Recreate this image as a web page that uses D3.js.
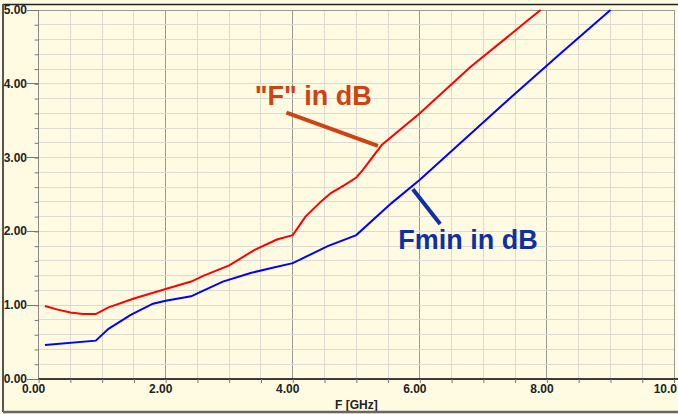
<!DOCTYPE html>
<html><head><meta charset="utf-8">
<script src="https://cdn.jsdelivr.net/npm/d3@7"></script>
<style>
html,body{margin:0;padding:0;background:#fffbe3;}
svg{display:block;font-family:"Liberation Sans",Arial,sans-serif;}
</style></head>
<body><svg id="c" width="678" height="414"></svg>
<script>
// ---- data ----
const fFreq = [0.1,0.3,0.5,0.7,0.9,1.1,1.5,2.0,2.4,2.6,3.0,3.4,3.75,4.0,4.2,4.45,4.6,4.8,5.0,5.1,5.4,6.0,6.8,7.7,7.9];
const fDb   = [0.99,0.94,0.90,0.88,0.88,0.97,1.09,1.22,1.32,1.40,1.54,1.75,1.89,1.95,2.20,2.41,2.52,2.62,2.73,2.83,3.17,3.60,4.23,4.86,5.0];
const fminFreq = [0.1,0.9,1.1,1.45,1.8,2.0,2.4,2.55,2.9,3.35,3.65,4.0,4.55,5.0,5.55,6.0,7.4,8.2,9.0];
const fminDb   = [0.46,0.52,0.68,0.87,1.02,1.06,1.12,1.18,1.32,1.44,1.50,1.57,1.80,1.95,2.38,2.70,3.79,4.40,5.0];
const xTickLabels = ["0.00","2.00","4.00","6.00","8.00","10.0"];
const yTickLabels = ["0.00","1.00","2.00","3.00","4.00","5.00"];
const xTitle = "F [GHz]";
const annotations = [
  {text:'"F" in dB', tx:3.40, ty:3.71, x1:3.90, y1:3.61, x2:5.34, y2:3.16, color:"#cc4411"},
  {text:"Fmin in dB", tx:5.66, ty:1.76, x1:5.89, y1:2.57, x2:6.32, y2:2.10, color:"#1030a0"}
];

// ---- chart ----
const svg = d3.select("#c");
const x = d3.scaleLinear().domain([0,10]).range([38.6,674]);
const y = d3.scaleLinear().domain([0,5]).range([379,10]);

svg.append("rect").attr("width",678).attr("height",414).attr("fill","#fffbe3");

// grid
const g = svg.append("g");
g.selectAll(".vx").data(d3.range(0,10.01,0.5)).join("line")
  .attr("x1",d=>x(d)).attr("x2",d=>x(d)).attr("y1",y(5)).attr("y2",y(0))
  .attr("stroke",d=>(Math.abs(d%2)<1e-6 && d>0 && d<10)?"#9a9a94":"#dcdad0")
  .attr("stroke-width",1).attr("shape-rendering","crispEdges");
g.selectAll(".hy").data(d3.range(0,5.01,0.2)).join("line")
  .attr("x1",x(0)).attr("x2",x(10)).attr("y1",d=>y(d)).attr("y2",d=>y(d))
  .attr("stroke","#dcdad0").attr("stroke-width",1).attr("shape-rendering","crispEdges");

// plot borders
svg.append("line").attr("x1",x(0)).attr("x2",x(10)).attr("y1",y(5)).attr("y2",y(5)).attr("stroke","#9a9a94").attr("shape-rendering","crispEdges");
svg.append("line").attr("x1",x(10)).attr("x2",x(10)).attr("y1",y(5)).attr("y2",y(0)).attr("stroke","#9a9a94").attr("shape-rendering","crispEdges");
svg.append("line").attr("x1",x(0)).attr("x2",x(0)).attr("y1",y(5)).attr("y2",y(0)).attr("stroke","#8a8a86").attr("shape-rendering","crispEdges");

// x axis
const xAxis = d3.axisBottom(x).tickValues(d3.range(0,10.01,0.5)).tickSize(4).tickFormat("");
const xa = svg.append("g").attr("transform",`translate(0,${y(0)})`).call(xAxis);
xa.select(".domain").attr("stroke","#000").attr("stroke-width",1.5).attr("d",`M${x(0)},0H678`);
xa.selectAll(".tick line").attr("stroke","#777");
svg.append("g").selectAll("text").data(xTickLabels).join("text")
  .attr("x",(d,i)=>i===xTickLabels.length-1?677:x(i*2)-5).attr("y",393)
  .attr("text-anchor",(d,i)=>i===xTickLabels.length-1?"end":"middle")
  .attr("font-size",12).attr("font-weight","bold").attr("fill","#222").text(d=>d);
svg.append("text").attr("x",(x(0)+x(10))/2).attr("y",409).attr("text-anchor","middle")
  .attr("font-size",12).attr("font-weight","bold").attr("fill","#222").text(xTitle);

// y axis
const yAxis = d3.axisLeft(y).tickValues(d3.range(0,5.01,0.2)).tickSize(4).tickFormat("");
const ya = svg.append("g").attr("transform",`translate(${x(0)},0)`).call(yAxis);
ya.select(".domain").remove();
ya.selectAll(".tick line").attr("stroke","#777");
svg.append("g").selectAll("line").data(yTickLabels).join("line")
  .attr("x1",27).attr("x2",x(0)).attr("y1",(d,i)=>y(i)).attr("y2",(d,i)=>y(i))
  .attr("stroke","#777").attr("shape-rendering","crispEdges");
svg.append("g").selectAll("text").data(yTickLabels).join("text")
  .attr("x",27).attr("y",(d,i)=>y(i)+4).attr("text-anchor","end")
  .attr("font-size",12).attr("font-weight","bold").attr("fill","#222").text(d=>d);

// curves
const line = d3.line().x(d=>x(d[0])).y(d=>y(d[1]));
svg.append("path").datum(fFreq.map((f,i)=>[f,fDb[i]])).attr("d",line)
  .attr("fill","none").attr("stroke","#ff0000").attr("stroke-width",2);
svg.append("path").datum(fminFreq.map((f,i)=>[f,fminDb[i]])).attr("d",line)
  .attr("fill","none").attr("stroke","#0000ff").attr("stroke-width",2);

// annotations
annotations.forEach(a=>{
  svg.append("line").attr("x1",x(a.x1)).attr("y1",y(a.y1)).attr("x2",x(a.x2)).attr("y2",y(a.y2))
    .attr("stroke",a.color).attr("stroke-width",4);
  svg.append("text").attr("x",x(a.tx)).attr("y",y(a.ty)).attr("font-size",27)
    .attr("font-weight","bold").attr("fill",a.color).text(a.text);
});

// outer frame
svg.append("line").attr("x1",3).attr("x2",678).attr("y1",4.5).attr("y2",4.5).attr("stroke","#222").attr("stroke-width",1.5);
svg.append("line").attr("x1",3).attr("x2",3).attr("y1",4).attr("y2",412).attr("stroke","#555").attr("stroke-width",2);
svg.append("line").attr("x1",3).attr("x2",678).attr("y1",412).attr("y2",412).attr("stroke","#666").attr("stroke-width",2.5);
</script></body></html>
